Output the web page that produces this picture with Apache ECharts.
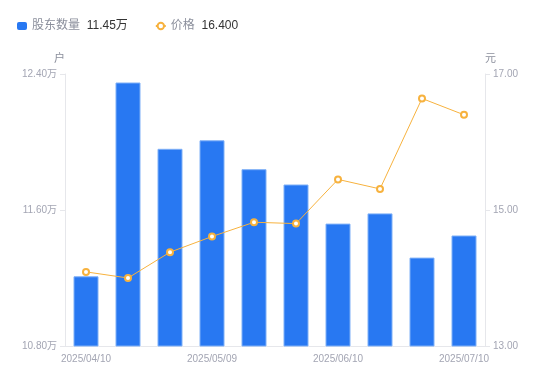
<!DOCTYPE html>
<html><head><meta charset="utf-8">
<script src="https://cdn.jsdelivr.net/npm/echarts@6/dist/echarts.min.js"></script>
<style>html,body{margin:0;padding:0;background:#fff}#c{width:550px;height:381px}</style>
</head><body><div id="c"></div>
<script>
const categories = ['2025/04/10','2025/04/20','2025/04/30','2025/05/09','2025/05/20','2025/05/31','2025/06/10','2025/06/20','2025/06/30','2025/07/10'];
const holders = [11.21, 12.35, 11.96, 12.01, 11.84, 11.75, 11.52, 11.58, 11.32, 11.45];
const prices = [14.09, 14.00, 14.38, 14.61, 14.82, 14.80, 15.45, 15.31, 16.64, 16.40];
const leftTicks = [10.8, 12.4, 0.8];
const rightTicks = [13, 17, 2];

const FF = '"Liberation Sans", "Noto Sans CJK SC", sans-serif';
const labelColor = '#a3a5b3';
const lineColor = '#e6e7eb';
const legendVals = {
  '股东数量': holders[holders.length-1].toFixed(2) + '万',
  '价格': prices[prices.length-1].toFixed(3)
};
const chart = echarts.init(document.getElementById('c'));
chart.setOption({
  animation: false,
  textStyle: {fontFamily: FF},
  legend: {
    left: 12, top: 15, itemWidth: 10, itemHeight: 8, itemGap: 27,
    data: [{name: '股东数量', icon: 'roundRect', itemStyle: {borderWidth: 0}}, {name: '价格'}],
    formatter: n => '{n|' + n + '}  {v|' + legendVals[n] + '}',
    textStyle: {
      fontFamily: FF,
      rich: {
        n: {color: '#8b8f9c', fontSize: 12, fontFamily: FF},
        v: {color: '#333333', fontSize: 12, fontFamily: FF}
      }
    }
  },
  grid: {left: 65, right: 65, top: 74, bottom: 35},
  xAxis: {
    type: 'category', data: categories, boundaryGap: true,
    axisLine: {lineStyle: {color: lineColor}},
    axisTick: {show: false},
    axisLabel: {interval: 2, color: labelColor, fontSize: 10, fontFamily: FF, margin: 8}
  },
  yAxis: [{
    type: 'value', min: leftTicks[0], max: leftTicks[1], interval: leftTicks[2],
    name: '户', nameGap: 10,
    nameTextStyle: {color: '#8b8f9c', fontSize: 11, align: 'right', fontFamily: FF},
    axisLine: {show: true, lineStyle: {color: lineColor}},
    axisTick: {show: true, length: 5, lineStyle: {color: lineColor}},
    splitLine: {show: false},
    axisLabel: {color: labelColor, fontSize: 10, fontFamily: FF, formatter: v => v.toFixed(2) + '万'}
  }, {
    type: 'value', min: rightTicks[0], max: rightTicks[1], interval: rightTicks[2],
    name: '元', nameGap: 10,
    nameTextStyle: {color: '#8b8f9c', fontSize: 11, align: 'left', fontFamily: FF},
    axisLine: {show: true, lineStyle: {color: lineColor}},
    axisTick: {show: true, length: 5, lineStyle: {color: lineColor}},
    splitLine: {show: false},
    axisLabel: {color: labelColor, fontSize: 10, fontFamily: FF, formatter: v => v.toFixed(2)}
  }],
  series: [{
    name: '股东数量', type: 'bar', data: holders, yAxisIndex: 0, barWidth: 25,
    itemStyle: {color: '#2878f2', borderColor: '#7fb0f7', borderWidth: 1}
  }, {
    name: '价格', type: 'line', data: prices, yAxisIndex: 1,
    symbol: 'emptyCircle', symbolSize: 6,
    lineStyle: {color: '#f7b23e', width: 1},
    itemStyle: {color: '#f7b23e', borderWidth: 2}
  }]
});
</script></body></html>
